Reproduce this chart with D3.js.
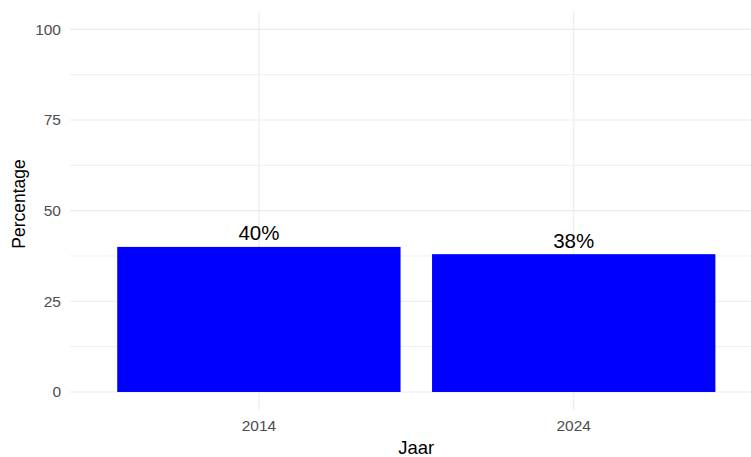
<!DOCTYPE html>
<html>
<head>
<meta charset="utf-8">
<script src="https://cdn.jsdelivr.net/npm/d3@7"></script>
<style>
  html, body { margin: 0; padding: 0; background: #fff; }
  svg { display: block; font-family: "Liberation Sans", Arial, sans-serif; }
</style>
</head>
<body>
<svg id="chart" width="751" height="457"></svg>
<script>
const categories = ["2014", "2024"];
const values = [40, 38];
const labels = ["40%", "38%"];
const yTicks = [0, 25, 50, 75, 100];
const yMinor = [12.5, 37.5, 62.5, 87.5];

const svg = d3.select("#chart");
const pLeft = 70, pRight = 762.6, pTop = 11.2, pBottom = 410.1;

const x = d3.scaleBand().domain(categories).range([pLeft, pRight])
  .paddingInner(0.1).paddingOuter(0.15);
const y = d3.scaleLinear().domain([-5, 105]).range([pBottom, pTop]);

const grid = svg.append("g");
grid.selectAll("line.minor").data(yMinor).join("line")
  .attr("class", "minor")
  .attr("x1", pLeft).attr("x2", pRight)
  .attr("y1", d => y(d)).attr("y2", d => y(d))
  .attr("stroke", "#ebebeb").attr("stroke-width", 0.8);
grid.selectAll("line.major").data(yTicks).join("line")
  .attr("class", "major")
  .attr("x1", pLeft).attr("x2", pRight)
  .attr("y1", d => y(d)).attr("y2", d => y(d))
  .attr("stroke", "#ebebeb").attr("stroke-width", 1.1);
grid.selectAll("line.vx").data(categories).join("line")
  .attr("class", "vx")
  .attr("x1", d => x(d) + x.bandwidth() / 2).attr("x2", d => x(d) + x.bandwidth() / 2)
  .attr("y1", pTop).attr("y2", pBottom)
  .attr("stroke", "#ebebeb").attr("stroke-width", 1.1);

svg.append("g").selectAll("rect").data(categories).join("rect")
  .attr("x", d => x(d))
  .attr("width", x.bandwidth())
  .attr("y", (d, i) => y(values[i]))
  .attr("height", (d, i) => y(0) - y(values[i]))
  .attr("fill", "#0000ff");

svg.append("g").selectAll("text").data(categories).join("text")
  .attr("x", d => x(d) + x.bandwidth() / 2)
  .attr("y", (d, i) => y(values[i]) - 6.5)
  .attr("text-anchor", "middle")
  .attr("font-size", "20.5px")
  .attr("fill", "#000")
  .text((d, i) => labels[i]);

// y axis
const yAxis = d3.axisLeft(y).tickValues(yTicks).tickSize(0).tickPadding(9);
const ya = svg.append("g").attr("transform", `translate(${pLeft},0)`).call(yAxis);
ya.select(".domain").remove();
ya.selectAll("text").attr("font-size", "15.5px").attr("fill", "#4d4d4d")
  .attr("font-family", "Liberation Sans, Arial, sans-serif");

// x axis
const xAxis = d3.axisBottom(x).tickSize(0).tickPadding(10);
const xa = svg.append("g").attr("transform", `translate(0,${pBottom})`).call(xAxis);
xa.select(".domain").remove();
xa.selectAll("text").attr("font-size", "15.5px").attr("fill", "#4d4d4d")
  .attr("font-family", "Liberation Sans, Arial, sans-serif");

svg.append("text")
  .attr("x", (pLeft + pRight) / 2).attr("y", 454)
  .attr("text-anchor", "middle").attr("font-size", "18.5px").attr("fill", "#000")
  .text("Jaar");

svg.append("text")
  .attr("transform", `translate(25,204) rotate(-90)`)
  .attr("text-anchor", "middle").attr("font-size", "17.5px").attr("fill", "#000")
  .text("Percentage");
</script>
</body>
</html>
